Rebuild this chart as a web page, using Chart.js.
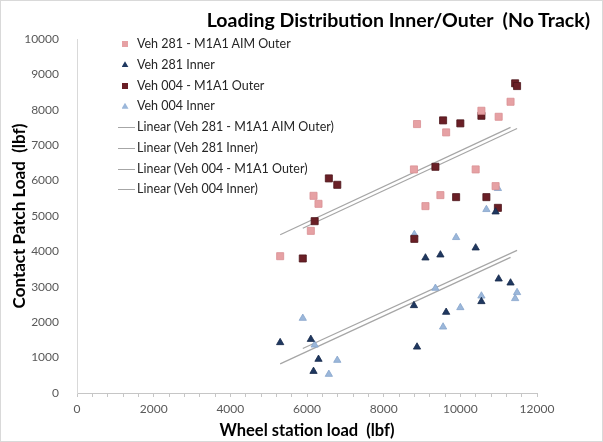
<!DOCTYPE html>
<html>
<head>
<meta charset="utf-8">
<script src="https://cdn.jsdelivr.net/npm/chart.js@4/dist/chart.umd.min.js"></script>
<style>
  html, body { margin: 0; padding: 0; background: #fff; }
  #wrap { position: relative; width: 603px; height: 442px; overflow: hidden; font-family: Lato, "Liberation Sans", sans-serif; }
  #c { position: absolute; left: 0; top: 0; }
  #frame { position: absolute; left: 0; top: 0; width: 603px; height: 442px; box-sizing: border-box; border: 1px solid #d9d9d9; pointer-events: none; }
  #title { position: absolute; top: 7px; right: 13px; font-weight: bold; font-size: 19.5px; color: #000; white-space: nowrap; line-height: 26px; }
  .lg { position: absolute; left: 0; height: 20px; line-height: 20px; font-size: 12.5px; color: #262626; white-space: nowrap; }
  .lg .t { position: absolute; left: 137px; top: 0; }
  .mk { position: absolute; }
</style>
</head>
<body>
<div id="wrap">
  <canvas id="c" width="603" height="442"></canvas>
  <div id="title">Loading Distribution Inner/Outer&nbsp;&nbsp;(No Track)</div>
  <div id="legend"></div>
  <div id="frame"></div>
</div>
<script>
// ---- Data ----
const veh281Load  = [5300, 6100, 6170, 6300, 8790, 8870, 9090, 9480, 9630, 10400, 10550, 10920, 11000, 11310];
const veh281Outer = [3865, 4580, 5570, 5344, 6316, 7597, 5279, 5590, 7362, 6316, 7973, 5844, 7803, 8227];
const veh281Inner = [1425, 1517,  613,  954, 2471, 1300, 3817, 3902, 2282, 4100, 2584, 5117, 3223, 3110];

const veh004Load  = [5890, 6200, 6570, 6790, 8800, 9350, 9550, 9890, 10000, 10550, 10680, 10980, 11430, 11480];
const veh004Outer = [3800, 4854, 6062, 5881, 4354, 6390, 7701, 5533, 7617, 7831, 5533, 5230, 8748, 8671];
const veh004Inner = [2112, 1357,  529,  925, 4478, 2960, 1866, 4394, 2414, 2742, 5185, 5779, 2669, 2839];

const seriesNames = ["Veh 281 - M1A1 AIM Outer", "Veh 281 Inner", "Veh 004 - M1A1 Outer", "Veh 004 Inner"];
const xTickLabels = [0, 2000, 4000, 6000, 8000, 10000, 12000];
const yTickLabels = [0, 1000, 2000, 3000, 4000, 5000, 6000, 7000, 8000, 9000, 10000];

// ---- helpers ----
function pts(xs, ys) { return xs.map((x, i) => ({ x: x, y: ys[i] })); }
function linear(xs, ys) {
  const n = xs.length;
  const mx = xs.reduce((a, b) => a + b, 0) / n;
  const my = ys.reduce((a, b) => a + b, 0) / n;
  let sxy = 0, sxx = 0;
  for (let i = 0; i < n; i++) { sxy += (xs[i] - mx) * (ys[i] - my); sxx += (xs[i] - mx) * (xs[i] - mx); }
  const b = sxy / sxx, a = my - b * mx;
  const x0 = Math.min(...xs), x1 = Math.max(...xs);
  return [{ x: x0, y: a + b * x0 }, { x: x1, y: a + b * x1 }];
}

const FONT = 'Lato, "Liberation Sans", sans-serif';
const colPink = '#e6a1a4', colPinkB = '#d98f93';
const colMaroon = '#6a1f26', colMaroonB = '#4d151a';
const colNavy = '#1f3860', colNavyB = '#15284a';
const colLight = '#9bb7da', colLightB = '#86a5cc';
const colTrend = '#a6a6a6';

const series = [
  { name: seriesNames[0], xs: veh281Load, ys: veh281Outer, style: 'rect', r: 5, bg: colPink, bd: colPinkB },
  { name: seriesNames[1], xs: veh281Load, ys: veh281Inner, style: 'triangle', r: 4.2, bg: colNavy, bd: colNavyB },
  { name: seriesNames[2], xs: veh004Load, ys: veh004Outer, style: 'rect', r: 5, bg: colMaroon, bd: colMaroonB },
  { name: seriesNames[3], xs: veh004Load, ys: veh004Inner, style: 'triangle', r: 4.2, bg: colLight, bd: colLightB }
];

const datasets = [];
series.forEach(s => {
  datasets.push({
    type: 'line', label: 'Linear (' + s.name + ')', data: linear(s.xs, s.ys),
    borderColor: colTrend, borderWidth: 1.2, pointRadius: 0, fill: false, order: 2
  });
});
series.forEach(s => {
  datasets.push({
    type: 'scatter', label: s.name, data: pts(s.xs, s.ys),
    pointStyle: s.style, pointRadius: s.r, backgroundColor: s.bg, borderColor: s.bd, borderWidth: 0.8, order: 1
  });
});

new Chart(document.getElementById('c'), {
  type: 'scatter',
  data: { datasets: datasets },
  options: {
    responsive: false,
    animation: false,
    events: [],
    layout: { padding: { top: 39, right: 66, bottom: 0, left: 0 } },
    plugins: { legend: { display: false }, tooltip: { enabled: false }, title: { display: false } },
    scales: {
      x: {
        type: 'linear', min: 0, max: 12000,
        afterBuildTicks: sc => { const t = []; for (let v = 0; v <= 12000; v += 400) t.push({ value: v }); sc.ticks = t; },
        ticks: {
          autoSkip: false, maxRotation: 0, minRotation: 0, padding: 5,
          callback: v => (xTickLabels.includes(v) ? String(v) : ''),
          color: '#595959', font: { family: FONT, size: 12 }
        },
        grid: { drawOnChartArea: false, drawTicks: true, tickLength: 4, color: '#c6c6c6', lineWidth: 1 },
        border: { color: '#c6c6c6', width: 1 },
        title: { display: true, text: 'Wheel station load  (lbf)', color: '#000', font: { family: FONT, size: 16.5, weight: 'bold' }, padding: { top: 0, bottom: 1 } },
        afterFit: sc => { sc.height = 49; }
      },
      y: {
        type: 'linear', min: 0, max: 10000,
        afterBuildTicks: sc => { sc.ticks = yTickLabels.map(v => ({ value: v })); },
        ticks: { padding: 10, color: '#595959', font: { family: FONT, size: 12 }, callback: v => String(v) },
        grid: { display: false },
        border: { display: true, color: '#d9d9d9', width: 1 },
        title: { display: true, text: 'Contact Patch Load  (lbf)', color: '#000', font: { family: FONT, size: 17, weight: 'bold' }, padding: { top: 9, bottom: 0 } },
        afterFit: sc => { sc.width = 77; }
      }
    }
  }
});

// ---- HTML legend ----
const legendItems = [
  { text: seriesNames[0], kind: 'rect', color: colPink },
  { text: seriesNames[1], kind: 'tri', color: colNavy },
  { text: seriesNames[2], kind: 'rect', color: colMaroon },
  { text: seriesNames[3], kind: 'tri', color: colLight },
  { text: 'Linear (' + seriesNames[0] + ')', kind: 'line' },
  { text: 'Linear (' + seriesNames[1] + ')', kind: 'line' },
  { text: 'Linear (' + seriesNames[2] + ')', kind: 'line' },
  { text: 'Linear (' + seriesNames[3] + ')', kind: 'line' }
];
const lg = document.getElementById('legend');
legendItems.forEach((it, i) => {
  const row = document.createElement('div');
  row.className = 'lg';
  const cy = 44 + i * 20.75;
  row.style.top = (cy - 10) + 'px';
  row.style.width = '400px';
  const mk = document.createElement('div');
  mk.className = 'mk';
  if (it.kind === 'rect') {
    Object.assign(mk.style, { left: '122px', top: '7px', width: '6px', height: '6px', background: it.color });
  } else if (it.kind === 'tri') {
    Object.assign(mk.style, { left: '121.5px', top: '6.5px', width: '7px', height: '6px', background: it.color, clipPath: 'polygon(50% 0, 100% 100%, 0 100%)' });
  } else {
    Object.assign(mk.style, { left: '118px', top: '10px', width: '17px', height: '1px', background: colTrend });
  }
  row.appendChild(mk);
  const t = document.createElement('span');
  t.className = 't';
  t.textContent = it.text;
  row.appendChild(t);
  lg.appendChild(row);
});
</script>
</body>
</html>
